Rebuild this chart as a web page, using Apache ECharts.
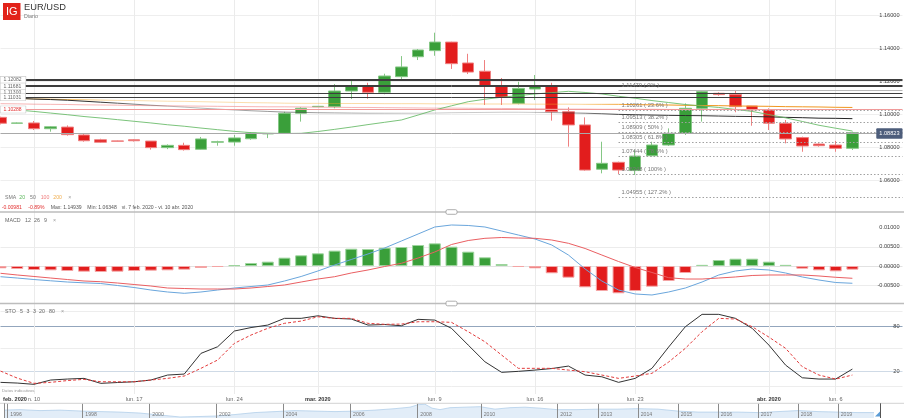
<!DOCTYPE html>
<html>
<head>
<meta charset="utf-8">
<script src="https://cdn.jsdelivr.net/npm/echarts@6.0.0/dist/echarts.min.js"></script>
<style>
html,body{margin:0;padding:0;background:#fff;}
#chart{width:904px;height:418px;}
</style>
</head>
<body>
<div id="chart"></div>
<script>
// ================= DATA =================
const categories = ['2020-02-07','2020-02-09','2020-02-10','2020-02-11','2020-02-12','2020-02-13','2020-02-14','2020-02-16','2020-02-17','2020-02-18','2020-02-19','2020-02-20','2020-02-21','2020-02-23','2020-02-24','2020-02-25','2020-02-26','2020-02-27','2020-02-28','2020-03-01','2020-03-02','2020-03-03','2020-03-04','2020-03-05','2020-03-06','2020-03-08','2020-03-09','2020-03-10','2020-03-11','2020-03-12','2020-03-13','2020-03-15','2020-03-16','2020-03-17','2020-03-18','2020-03-19','2020-03-20','2020-03-22','2020-03-23','2020-03-24','2020-03-25','2020-03-26','2020-03-27','2020-03-29','2020-03-30','2020-03-31','2020-04-01','2020-04-02','2020-04-03','2020-04-05','2020-04-06','2020-04-07','2020-04-08','2020-04-09','2020-04-10'];

const tickLabels = {'2020-02-07':'feb. 2020','2020-02-10':'n. 10','2020-02-17':'lun. 17','2020-02-24':'lun. 24','2020-03-01':'mar. 2020','2020-03-09':'lun. 9','2020-03-16':'lun. 16','2020-03-23':'lun. 23','2020-04-01':'abr. 2020','2020-04-06':'lun. 6'};

const opens  = [1.0981,1.0945,1.0947,1.0912,1.0922,1.0874,1.0845,1.0838,1.0845,1.0837,1.0797,1.0811,1.0787,1.0830,1.0831,1.0851,1.0881,1.0884,1.1006,1.1046,1.1046,1.1141,1.1173,1.1133,1.1228,1.1349,1.1386,1.1438,1.1311,1.1261,1.1173,1.1066,1.1153,1.1173,1.1015,1.0935,1.0666,1.0708,1.0658,1.0748,1.0813,1.0884,1.1036,1.1127,1.1119,1.1050,1.1026,1.0945,1.0858,1.0819,1.0813,1.0793];
const closes = [1.0945,1.0947,1.0912,1.0924,1.0876,1.0839,1.0830,1.0836,1.0839,1.0797,1.0811,1.0785,1.0850,1.0833,1.0856,1.0886,1.0882,1.1006,1.1036,1.1048,1.1141,1.1173,1.1133,1.1232,1.1287,1.1390,1.1438,1.1307,1.1256,1.1173,1.1103,1.1157,1.1173,1.1015,1.0935,1.0661,1.0702,1.0661,1.0746,1.0813,1.0884,1.1036,1.1137,1.1119,1.1046,1.1026,1.0945,1.0850,1.0807,1.0809,1.0793,1.0888];
const lows   = [1.0938,1.0942,1.0904,1.0894,1.0870,1.0833,1.0826,1.0834,1.0834,1.0785,1.0788,1.0779,1.0784,1.0809,1.0809,1.0845,1.0855,1.0880,1.0955,1.1044,1.1036,1.1092,1.1094,1.1121,1.1208,1.1329,1.1355,1.1275,1.1244,1.1056,1.1056,1.1060,1.1086,1.0961,1.0803,1.0657,1.0641,1.0637,1.0631,1.0742,1.0807,1.0874,1.0955,1.1112,1.1012,1.0930,1.0904,1.0823,1.0772,1.0803,1.0772,1.0783];
const highs  = [1.0985,1.0950,1.0959,1.0928,1.0932,1.0886,1.0851,1.0840,1.0849,1.0837,1.0817,1.0827,1.0862,1.0839,1.0874,1.0890,1.0886,1.1015,1.1042,1.1050,1.1183,1.1212,1.1191,1.1246,1.1353,1.1396,1.1495,1.1440,1.1367,1.1329,1.1220,1.1197,1.1238,1.1191,1.1042,1.0981,1.0833,1.0712,1.0783,1.0833,1.0914,1.1066,1.1147,1.1133,1.1147,1.1050,1.1036,1.0965,1.0864,1.0823,1.0838,1.0894];

const sma20  = [1.1035,1.1026,1.1017,1.1007,1.0997,1.0986,1.0977,1.0967,1.0957,1.0947,1.0936,1.0927,1.0916,1.0906,1.0896,1.0888,1.0885,1.0883,1.0884,1.0895,1.0908,1.0922,1.0937,1.0951,1.0965,1.0995,1.1026,1.1051,1.1076,1.1091,1.1103,1.1113,1.1123,1.1131,1.1139,1.1132,1.1123,1.1109,1.1097,1.1083,1.1071,1.1059,1.1050,1.1041,1.1029,1.1017,1.0998,1.0978,1.0956,1.0933,1.0915,1.0898];
const sma50  = [1.1100,1.1097,1.1092,1.1089,1.1085,1.1079,1.1073,1.1067,1.1061,1.1055,1.1049,1.1043,1.1037,1.1031,1.1026,1.1021,1.1017,1.1013,1.1011,1.1009,1.1008,1.1007,1.1006,1.1006,1.1006,1.1006,1.1007,1.1009,1.1010,1.1011,1.1012,1.1012,1.1011,1.1010,1.1008,1.1006,1.1003,1.0999,1.0997,1.0995,1.0993,1.0992,1.0991,1.0989,1.0987,1.0986,1.0984,1.0981,1.0979,1.0976,1.0975,1.0973];
const sma100 = [1.1064,1.1063,1.1061,1.1060,1.1059,1.1057,1.1056,1.1055,1.1053,1.1052,1.1051,1.1050,1.1049,1.1048,1.1047,1.1046,1.1045,1.1045,1.1044,1.1043,1.1042,1.1041,1.1041,1.1040,1.1039,1.1038,1.1037,1.1037,1.1036,1.1035,1.1035,1.1034,1.1033,1.1032,1.1031,1.1031,1.1030,1.1030,1.1030,1.1030,1.1029,1.1029,1.1029,1.1029,1.1029,1.1029,1.1028,1.1028,1.1028,1.1028,1.1028,1.1028];
const sma200 = [1.1096,1.1094,1.1093,1.1091,1.1089,1.1088,1.1086,1.1084,1.1083,1.1081,1.1079,1.1078,1.1076,1.1074,1.1072,1.1070,1.1069,1.1067,1.1066,1.1066,1.1065,1.1065,1.1065,1.1064,1.1064,1.1064,1.1063,1.1063,1.1063,1.1062,1.1062,1.1062,1.1061,1.1061,1.1061,1.1060,1.1060,1.1060,1.1058,1.1057,1.1056,1.1054,1.1053,1.1052,1.1050,1.1049,1.1048,1.1046,1.1045,1.1044,1.1042,1.1041];

const levelValues = [1.12082, 1.11770, 1.11681, 1.11300, 1.11031];
const levelLabels = ['1.12082', '', '1.11681', '1.11300', '1.11031'];
const redLevel = 1.10288;
const lastPrice = 1.08823;
const fibStartDate = '2020-03-22';
const fibRatios = ['0%', '23.6%', '38.2%', '50%', '61.8%', '78.6%', '100%', '127.2%'];
const fibPrices = [1.11470, 1.10261, 1.09513, 1.08909, 1.08305, 1.07444, 1.06348, 1.04955];

const macdHist = [-0.0006,-0.00078,-0.00104,-0.00113,-0.0013,-0.00148,-0.00156,-0.00148,-0.0013,-0.00122,-0.00113,-0.00095,-0.00052,-0.00026,0.0002,0.00078,0.00113,0.00217,0.00278,0.0033,0.004,0.0045,0.00443,0.00477,0.00495,0.00547,0.0059,0.00503,0.00373,0.00226,0.00052,-0.00026,-0.0006,-0.0019,-0.00304,-0.00555,-0.00651,-0.00711,-0.00651,-0.00539,-0.0039,-0.00182,0.0003,0.00156,0.0019,0.0019,0.00113,0.0003,-0.0007,-0.00113,-0.00139,-0.00095];
const macdLine = [-0.00279,-0.00313,-0.00352,-0.00385,-0.00417,-0.00438,-0.00456,-0.00508,-0.0056,-0.00625,-0.00677,-0.00711,-0.00677,-0.00625,-0.00573,-0.00534,-0.00495,-0.00391,-0.00273,-0.0013,0.00026,0.00169,0.00313,0.00469,0.00651,0.00833,0.01016,0.01068,0.01055,0.01016,0.00911,0.00807,0.00703,0.00547,0.00286,-0.00078,-0.00391,-0.00625,-0.00729,-0.00755,-0.00677,-0.00573,-0.00417,-0.00234,-0.0013,-0.00078,-0.00104,-0.00182,-0.00286,-0.00365,-0.0043,-0.0045];
const signalLine = [-0.0019,-0.00234,-0.00273,-0.00313,-0.00352,-0.00391,-0.00409,-0.00443,-0.00482,-0.00521,-0.00573,-0.00586,-0.00599,-0.00599,-0.00599,-0.00573,-0.00534,-0.00495,-0.00417,-0.00339,-0.00279,-0.00182,-0.00104,-0.00013,0.0007,0.00208,0.00365,0.0056,0.00664,0.00721,0.00742,0.00729,0.00721,0.00677,0.00591,0.00456,0.00286,0.00117,-0.00039,-0.00169,-0.00305,-0.00339,-0.00339,-0.00313,-0.00286,-0.00247,-0.00234,-0.00234,-0.00234,-0.0026,-0.00294,-0.0032];

const stoK = [5.4,4.5,2.8,8.5,9.8,10.7,4.1,5.2,6.2,8.5,15.1,16.4,43.8,52.6,73.4,78,81.3,90.2,90.2,93.6,90.2,89.3,81.3,82,80.4,88.9,87.9,77,54.8,32.7,18.7,20,21.7,23.7,27,15.1,12.8,5.4,10.7,24,52.2,79.1,95.5,95.5,90.2,77,54.8,28.3,11.5,9.8,9.8,23];
const stoD = [20.4,11.1,4.1,5.4,7.8,9.4,6.2,6.2,6.2,8.5,10.7,13.8,24,35,57.1,68.1,77,83.6,86.6,92.3,90.2,90.2,83.6,82.3,82.6,85.7,85.7,84.9,72.5,59.2,41.6,24,24,24,21.7,19.5,15.1,10.7,13.8,17.4,32.3,50.5,72.5,90.2,89.3,79.1,65.4,50.5,26.1,15.1,9.8,15.1];

const navPos   = [0,16,36,56,78,96,116,136,156,176,196,212,231,251,271,291,311,331,351,371,391,406,414,421,428,436,446,461,476,491,506,521,536,553,573,594,614,634,654,674,694,714,734,754,774,794,814,834,854,870];
const navPrice = [1.246,1.273,1.218,1.246,1.19,1.162,1.134,1.079,0.968,0.857,0.884,0.912,0.996,1.107,1.162,1.218,1.19,1.162,1.19,1.246,1.329,1.412,1.551,1.579,1.357,1.273,1.384,1.412,1.44,1.301,1.384,1.412,1.357,1.273,1.273,1.301,1.301,1.329,1.301,1.19,1.134,1.134,1.134,1.107,1.162,1.218,1.162,1.134,1.107,1.107];
const navYears   = ['1996','1998','2000','2002','2004','2006','2008','2010','2012','2013','2014','2015','2016','2017','2018','2019'];
const navYearPos = [3.3,78.3,145.3,212,278.7,346,413.3,476.7,553.3,593.7,633.7,673.7,713.7,753.7,793.7,833.7];

// ================= CHART =================
const FONT = '"Liberation Sans", Arial, Helvetica, sans-serif';
const chart = echarts.init(document.getElementById('chart'), null, {renderer: 'canvas'});

const GREEN = '#3a9f3a', RED = '#e21d1d';
const weekDates = Object.keys(tickLabels).filter(d => d !== categories[0]);

function xAxisFor(gi, showLabels) {
  return {
    type: 'category', gridIndex: gi, data: categories, boundaryGap: false,
    axisLine: {show: false}, axisTick: {show: false},
    axisLabel: {
      show: showLabels, interval: 0, hideOverlap: false, margin: 2,
      fontSize: 5.6, fontFamily: FONT, color: '#666',
      formatter: (v) => {
        const t = tickLabels[v];
        if (!t) return '';
        if (v === categories[0]) return '{f|' + t + '}';
        if (t.indexOf('2020') >= 0) return '{b|' + t + '}';
        return t;
      },
      rich: {
        b: {fontWeight: 'bold', color: '#333', fontSize: 5.6, fontFamily: FONT},
        f: {fontWeight: 'bold', color: '#333', fontSize: 5.6, fontFamily: FONT, padding: [0, 0, 0, 29]}
      }
    },
    splitLine: {show: true, interval: (i, v) => weekDates.indexOf(v) >= 0, lineStyle: {color: '#ebebeb', width: 1}}
  };
}

const boxLabel = (txt, color) => ({
  show: true, position: 'insideStart', distance: 0, formatter: txt,
  fontSize: 5, fontFamily: FONT, color: color, backgroundColor: '#fff',
  borderColor: '#c8c8c8', borderWidth: 0.6, padding: [1, 4, 0.5, 3]
});

const markData = [];
levelValues.forEach((v, i) => {
  markData.push({
    yAxis: v,
    lineStyle: {color: '#3d3d3d', width: i === 0 ? 2 : 1, type: 'solid'},
    label: levelLabels[i] ? boxLabel(levelLabels[i], '#666') : {show: false}
  });
});
markData.push({yAxis: redLevel, lineStyle: {color: '#f09a9a', width: 1.2, type: 'solid'}, label: boxLabel(redLevel.toFixed(5), '#e23030')});
markData.push({
  yAxis: lastPrice, lineStyle: {color: '#a9a9a9', width: 1, type: 'solid'},
  label: {show: true, position: 'insideEnd', distance: 0, formatter: lastPrice.toFixed(5),
    fontSize: 5.6, fontFamily: FONT, color: '#fff', backgroundColor: '#4d5d7b', padding: [2.5, 3, 2, 3], borderRadius: 1}
});
fibPrices.forEach((p, i) => {
  markData.push([
    {coord: [fibStartDate, p],
     lineStyle: {color: i === 0 ? '#b9b9b9' : '#a0a0a0', width: 1, type: i === 0 ? 'solid' : [1.5, 2]},
     label: {show: true, position: 'insideStartTop', distance: [3, 1.5], formatter: p.toFixed(5) + ' ( ' + fibRatios[i] + ' )',
       fontSize: 5.8, fontFamily: FONT, color: '#777'}},
    {coord: [categories[categories.length - 1], p]}
  ]);
});

const grad = (stops) => new echarts.graphic.LinearGradient(0, 0, 1, 0, stops.map(s => ({offset: s[0], color: s[1]})));

const T = (x, y, text, size, fill, opts) => {
  opts = opts || {};
  return {type: 'text', x: x, y: y, silent: true, z: 100,
    style: {text: text, font: (opts.bold ? 'bold ' : '') + size + 'px ' + FONT, fill: fill,
      align: opts.align || 'left', verticalAlign: 'middle'}};
};
const LINE = (x1, y1, x2, y2, stroke, w) => ({type: 'line', silent: true, z: 90,
  shape: {x1: x1, y1: y1, x2: x2, y2: y2}, style: {stroke: stroke, lineWidth: w || 1}});

const option = {
  animation: false,
  backgroundColor: '#fff',
  textStyle: {fontFamily: FONT},
  grid: [
    {left: 0.5, right: 1.5, top: -17.54, height: 230.58, containLabel: false, outerBoundsMode: 'none'},
    {left: 0.5, right: 1.5, top: 208.4, height: 96, containLabel: false, outerBoundsMode: 'none'},
    {left: 0.5, right: 1.5, top: 303.4, height: 90.6, containLabel: false, outerBoundsMode: 'none'},
    {left: 4, right: 30, top: 403.5, height: 14.5, containLabel: false, outerBoundsMode: 'none'}
  ],
  xAxis: [
    xAxisFor(0, false), xAxisFor(1, false), xAxisFor(2, true),
    {type: 'value', gridIndex: 3, min: 0, max: 870, show: false}
  ],
  yAxis: [
    {type: 'value', gridIndex: 0, position: 'right', min: 1.04, max: 1.18, interval: 0.02,
     axisLine: {show: false}, axisTick: {show: false},
     axisLabel: {inside: true, margin: 3, fontSize: 5.6, fontFamily: FONT, color: '#444',
       showMinLabel: false, showMaxLabel: false, formatter: v => v.toFixed(5)},
     splitLine: {show: true, lineStyle: {color: ['transparent', '#eeeeee', '#eeeeee', '#eeeeee', '#eeeeee', '#eeeeee', '#eeeeee', 'transparent']}}},
    {type: 'value', gridIndex: 1, position: 'right', min: -0.01, max: 0.015, interval: 0.005,
     axisLine: {show: false}, axisTick: {show: false},
     axisLabel: {inside: true, margin: 3, fontSize: 5.6, fontFamily: FONT, color: '#444',
       showMinLabel: false, showMaxLabel: false, formatter: v => v.toFixed(5)},
     splitLine: {show: true, lineStyle: {color: ['transparent', '#ececec', '#e2e2e2', '#ececec', 'transparent', 'transparent']}}},
    {type: 'value', gridIndex: 2, position: 'right', min: -10, max: 110, interval: 10,
     axisLine: {show: false}, axisTick: {show: false},
     axisLabel: {inside: true, margin: 3, fontSize: 5.6, fontFamily: FONT, color: '#444',
       formatter: v => (Math.round(v) === 20 || Math.round(v) === 80) ? String(Math.round(v)) : ''},
     splitLine: {show: true, lineStyle: {color: ['transparent', '#ededed', 'transparent', '#cfdae6', 'transparent', 'transparent', '#ededed', 'transparent', 'transparent', '#93a6bd', 'transparent', '#ededed', 'transparent']}}},
    {type: 'value', gridIndex: 3, min: 0.8, max: 1.62, show: false}
  ],
  series: [
    {
      type: 'candlestick', name: 'EUR/USD', xAxisIndex: 0, yAxisIndex: 0, barWidth: 12, clip: true, z: 3,
      data: opens.map((o, i) => [o, closes[i], lows[i], highs[i]]),
      itemStyle: {color: GREEN, color0: RED, borderColor: '#85c785', borderColor0: '#ef8080', borderWidth: 1},
      markLine: {silent: true, symbol: ['none', 'none'], animation: false, precision: 5, data: markData}
    },
    {type: 'line', name: 'SMA 200', xAxisIndex: 0, yAxisIndex: 0, data: sma200, showSymbol: false, z: 4,
     lineStyle: {width: 1, color: grad([[0, 'rgba(245,166,35,0)'], [0.06, 'rgba(245,166,35,0.9)'], [0.14, 'rgba(245,166,35,0.35)'], [0.68, 'rgba(245,166,35,0.45)'], [0.74, 'rgba(240,150,30,1)'], [1, 'rgba(240,150,30,1)']])}},
    {type: 'line', name: 'SMA 100', xAxisIndex: 0, yAxisIndex: 0, data: sma100, showSymbol: false, z: 4,
     lineStyle: {width: 1, color: 'rgba(238,120,120,0.55)'}},
    {type: 'line', name: 'SMA 50', xAxisIndex: 0, yAxisIndex: 0, data: sma50, showSymbol: false, z: 4,
     lineStyle: {width: 1, color: grad([[0, '#222'], [0.12, '#333'], [0.2, 'rgba(80,80,80,0.35)'], [0.34, 'rgba(70,70,70,0.6)'], [0.5, 'rgba(80,80,80,0.3)'], [0.62, 'rgba(80,80,80,0.3)'], [0.73, 'rgba(40,40,40,0.9)'], [1, '#222']])}},
    {type: 'line', name: 'SMA 20', xAxisIndex: 0, yAxisIndex: 0, data: sma20, showSymbol: false, z: 4,
     lineStyle: {width: 1, color: 'rgba(100,185,100,0.85)'}},

    {type: 'bar', name: 'Histograma', xAxisIndex: 1, yAxisIndex: 1, barWidth: 12, z: 3,
     data: macdHist.map(v => ({value: v, itemStyle: v >= 0
       ? {color: GREEN, borderColor: '#9dd49d', borderWidth: 1}
       : {color: RED, borderColor: '#f4a5a5', borderWidth: 1}}))},
    {type: 'line', name: 'MACD', xAxisIndex: 1, yAxisIndex: 1, data: macdLine, showSymbol: false, z: 4,
     lineStyle: {width: 1, color: '#6aa6dc'}},
    {type: 'line', name: 'Señal', xAxisIndex: 1, yAxisIndex: 1, data: signalLine, showSymbol: false, z: 4,
     lineStyle: {width: 1, color: '#ea5f62'}},

    {type: 'line', name: '%K', xAxisIndex: 2, yAxisIndex: 2, data: stoK, showSymbol: false, z: 4,
     lineStyle: {width: 1, color: '#333'}},
    {type: 'line', name: '%D', xAxisIndex: 2, yAxisIndex: 2, data: stoD, showSymbol: false, z: 4,
     lineStyle: {width: 1, color: '#e23b3b', type: [3, 2]}},

    {type: 'line', name: 'Historial', xAxisIndex: 3, yAxisIndex: 3, showSymbol: false, z: 2,
     data: navPos.map((p, i) => [p, navPrice[i]]),
     lineStyle: {width: 0.8, color: '#b3cfea'}, areaStyle: {color: '#e2edf8', opacity: 1}},
    {type: 'custom', name: 'Años', xAxisIndex: 3, yAxisIndex: 3, z: 5, silent: true,
     data: navYearPos.map((p, i) => [p, i]),
     renderItem: (params, api) => {
       const x = api.value(0), i = api.value(1);
       const top = api.coord([x, 1.62]), bot = api.coord([x, 0.8]);
       return {type: 'group', children: [
         {type: 'line', shape: {x1: Math.round(top[0]) + 0.5, y1: top[1], x2: Math.round(top[0]) + 0.5, y2: bot[1]}, style: {stroke: '#8a8a8a', lineWidth: 1}},
         {type: 'text', style: {text: navYears[i], x: top[0] + 3, y: bot[1] - 3, font: '5.2px ' + FONT, fill: '#777', verticalAlign: 'middle'}}
       ]};
     }}
  ],
  graphic: [
    {type: 'rect', silent: true, z: 100, shape: {x: 3, y: 3, width: 17.5, height: 17}, style: {fill: '#e2231a'}},
    T(11.8, 12.2, 'IG', 11, '#fff', {align: 'center'}),
    T(24, 7.5, 'EUR/USD', 9.3, '#333'),
    T(24, 16.3, 'Diario', 5.3, '#777'),

    T(5, 197.7, 'SMA', 5.2, '#777'),
    T(19.3, 197.7, '20', 5.2, '#5cb85c'),
    T(30, 197.7, '50', 5.2, '#777'),
    T(40.7, 197.7, '100', 5.2, '#f08080'),
    T(53.3, 197.7, '200', 5.2, '#f0ad4e'),
    T(68.3, 197.7, '×', 5.2, '#999'),

    T(1.7, 207.6, '-0.00981', 5.1, '#e23030'),
    T(28.3, 207.6, '-0.89%', 5.1, '#e23030'),
    T(50.7, 207.6, 'Max: 1.14939', 5.1, '#555'),
    T(87.3, 207.6, 'Min: 1.06348', 5.1, '#555'),
    T(121.7, 207.6, 'vi. 7 feb. 2020 - vi. 10 abr. 2020', 5.1, '#555'),

    T(5, 220.3, 'MACD', 5.3, '#666'),
    T(25, 220.3, '12', 5.3, '#666'),
    T(34, 220.3, '26', 5.3, '#666'),
    T(44, 220.3, '9', 5.3, '#666'),
    T(53, 220.3, '×', 5.3, '#999'),

    T(5, 311.3, 'STO', 5.3, '#666'),
    T(20, 311.3, '5', 5.3, '#666'),
    T(26.5, 311.3, '3', 5.3, '#666'),
    T(33, 311.3, '3', 5.3, '#666'),
    T(39, 311.3, '20', 5.3, '#666'),
    T(49, 311.3, '80', 5.3, '#666'),
    T(61, 311.3, '×', 5.3, '#999'),

    T(2, 390.7, 'Datos indicativos', 4.3, '#999'),

    LINE(0, 212, 904, 212, '#bdbdbd', 1.3),
    LINE(0, 303.5, 904, 303.5, '#bdbdbd', 1.3),
    {type: 'rect', silent: true, z: 95, shape: {x: 446, y: 209.7, width: 11, height: 4.6, r: 1.5}, style: {fill: '#fff', stroke: '#9a9a9a', lineWidth: 0.8}},
    {type: 'rect', silent: true, z: 95, shape: {x: 446, y: 301.2, width: 11, height: 4.6, r: 1.5}, style: {fill: '#fff', stroke: '#9a9a9a', lineWidth: 0.8}},

    LINE(0, 403.3, 904, 403.3, '#d2d2d2', 1),
    LINE(4.5, 403.3, 4.5, 418, '#8a8a8a', 1),
    LINE(880.5, 403.3, 880.5, 418, '#555', 1),
    {type: 'polygon', silent: true, z: 95, shape: {points: [[875, 416.5], [880, 411.5], [880, 416.5]]}, style: {fill: '#5b9bd5'}}
  ]
};

chart.setOption(option);
</script>
</body>
</html>
